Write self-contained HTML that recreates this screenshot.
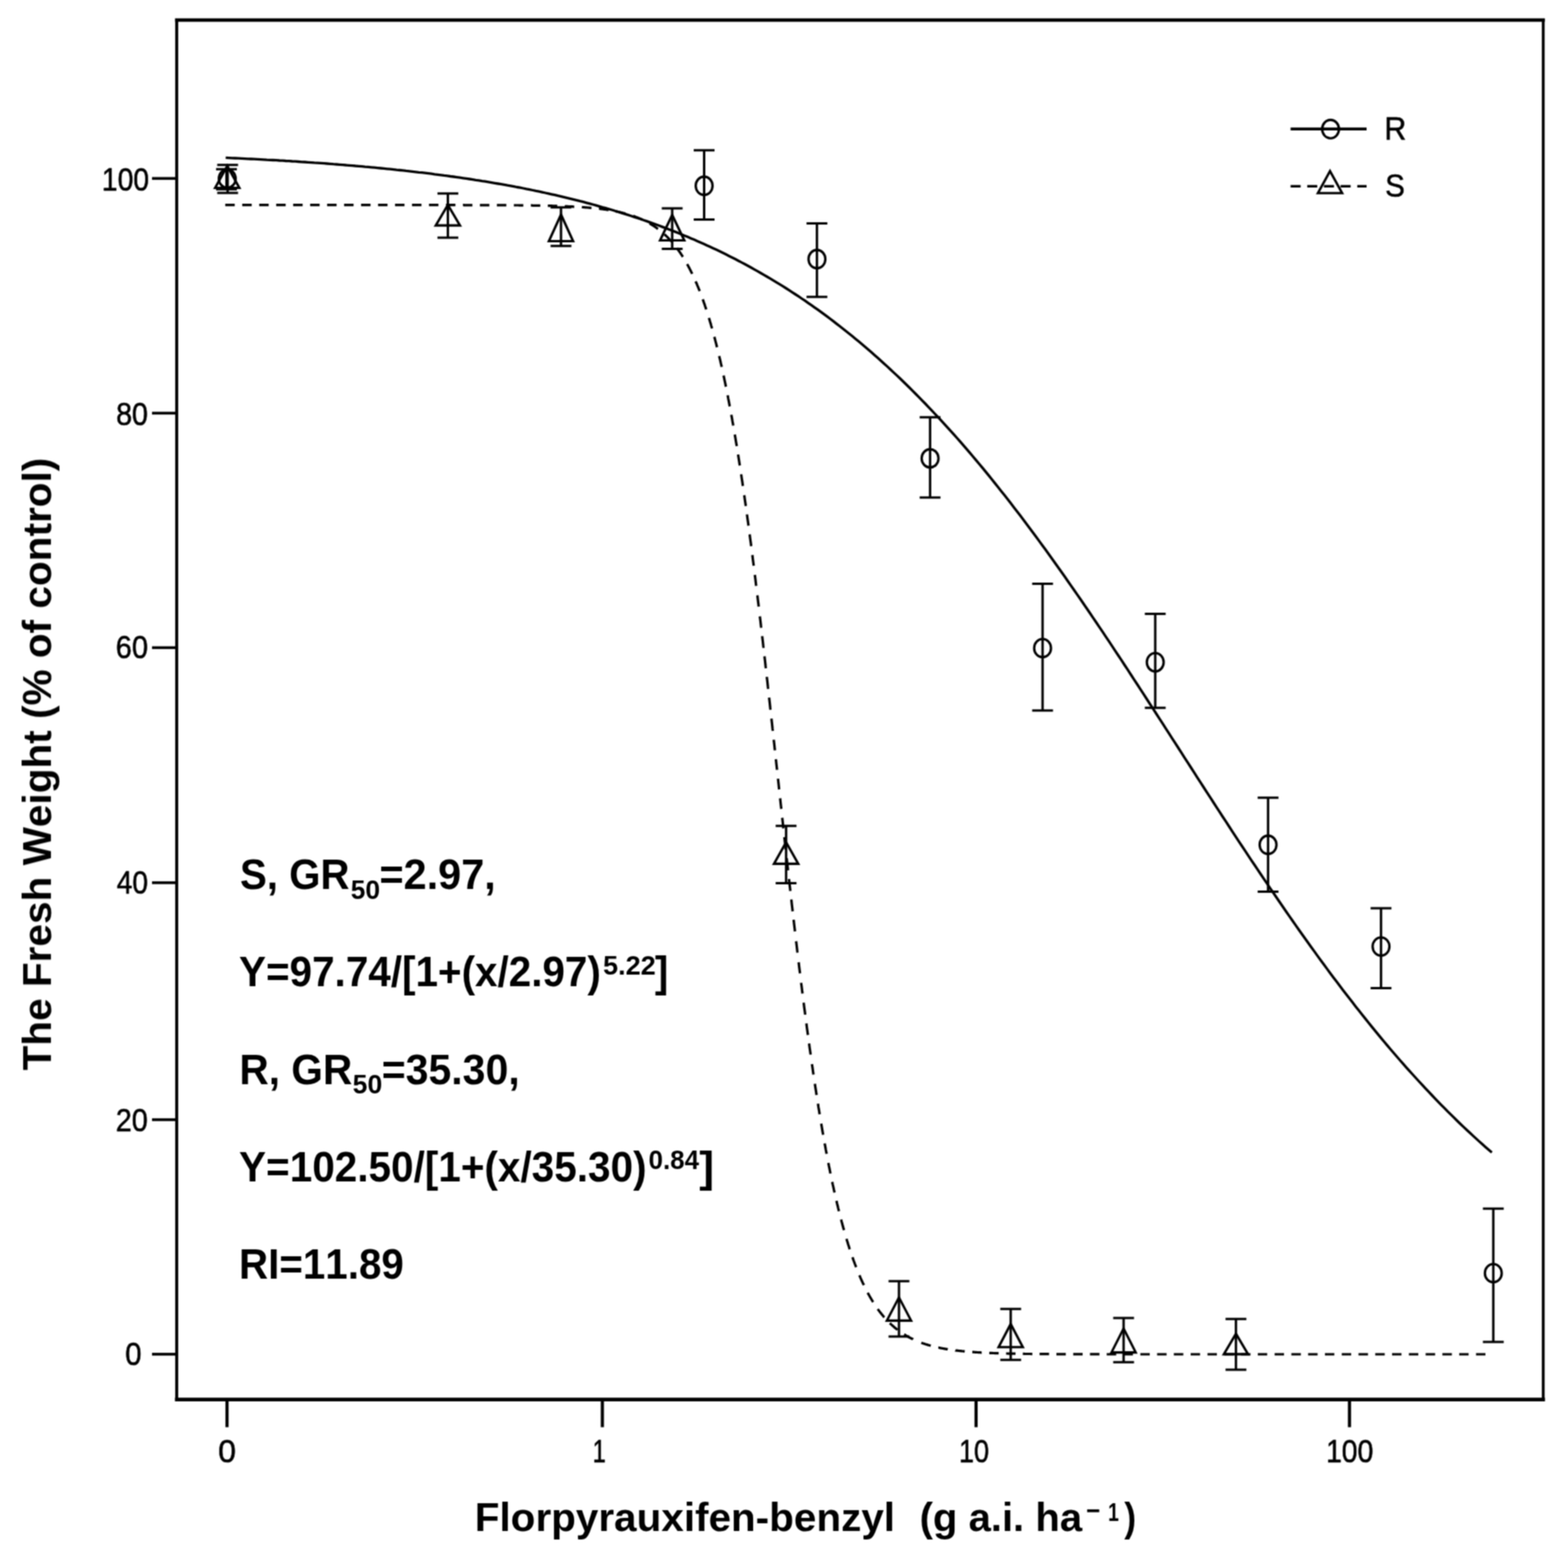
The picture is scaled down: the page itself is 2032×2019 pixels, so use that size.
<!DOCTYPE html>
<html lang="en"><head><meta charset="utf-8"><title>Dose response of fresh weight to florpyrauxifen-benzyl</title>
<style>
html,body{margin:0;padding:0;background:#fff;}
body{width:2032px;height:2019px;overflow:hidden;}
svg{display:block;}
text{font-family:"Liberation Sans",sans-serif;fill:#000;font-kerning:none;white-space:pre;}
</style></head><body>
<svg width="2032" height="2019" viewBox="0 0 2032 2019">
<defs><filter id="soft" x="0" y="0" width="2032" height="2019" filterUnits="userSpaceOnUse" color-interpolation-filters="sRGB"><feConvolveMatrix order="3" kernelMatrix="1 2 1 2 4 2 1 2 1" divisor="16" edgeMode="none" preserveAlpha="false"/></filter></defs>
<rect x="0" y="0" width="2032" height="2019" fill="#fff"/>
<g id="plot" filter="url(#soft)">
<g stroke="#000" fill="none" stroke-linecap="square">
<line x1="229.0" y1="26.0" x2="229.0" y2="1813.6" stroke-width="3.9"/>
<line x1="229.0" y1="26.0" x2="1999.9" y2="26.0" stroke-width="4.4"/>
<line x1="1999.9" y1="26.0" x2="1999.9" y2="1813.6" stroke-width="3.6"/>
<line x1="229.0" y1="1813.6" x2="1999.9" y2="1813.6" stroke-width="4.6"/>
</g>
<g stroke="#000" fill="none" stroke-linecap="butt">
<line x1="197" y1="231.25" x2="229.0" y2="231.25" stroke-width="3.6"/>
<line x1="197" y1="535.4" x2="229.0" y2="535.4" stroke-width="3.6"/>
<line x1="197" y1="839.3" x2="229.0" y2="839.3" stroke-width="3.6"/>
<line x1="197" y1="1143.9" x2="229.0" y2="1143.9" stroke-width="3.6"/>
<line x1="197" y1="1451.0" x2="229.0" y2="1451.0" stroke-width="3.6"/>
<line x1="197" y1="1754.9" x2="229.0" y2="1754.9" stroke-width="3.6"/>
<line x1="294.2" y1="1813.6" x2="294.2" y2="1849.5" stroke-width="4.1"/>
<line x1="780.6" y1="1813.6" x2="780.6" y2="1849.5" stroke-width="4.1"/>
<line x1="1264.9" y1="1813.6" x2="1264.9" y2="1849.5" stroke-width="4.1"/>
<line x1="1748.8" y1="1813.6" x2="1748.8" y2="1849.5" stroke-width="4.1"/>
</g>
<path d="M291.9 265.7 L292.7 265.7 L293.4 265.7 L294.2 265.7 L294.9 265.7 L295.7 265.7 L296.4 265.7 L297.2 265.7 L297.9 265.7 L298.7 265.7 L299.4 265.7 L300.2 265.7 L300.9 265.7 L301.7 265.7 L302.4 265.7 L303.2 265.7 L303.9 265.7 L304.2 265.7 M313.9 265.7 L314.7 265.7 L315.4 265.7 L316.2 265.7 L316.9 265.7 L317.7 265.7 L318.4 265.7 L319.2 265.7 L319.9 265.7 L320.7 265.7 L321.4 265.7 L322.2 265.7 L322.9 265.7 L323.7 265.7 L324.4 265.7 L325.2 265.7 L325.9 265.7 L326.2 265.7 M335.9 265.7 L336.7 265.7 L337.4 265.7 L338.2 265.7 L338.9 265.7 L339.7 265.7 L340.4 265.7 L341.2 265.7 L341.9 265.7 L342.7 265.7 L343.4 265.7 L344.2 265.7 L344.9 265.7 L345.7 265.7 L346.4 265.7 L347.2 265.7 L347.9 265.7 L348.2 265.7 M357.9 265.7 L358.7 265.7 L359.4 265.7 L360.2 265.7 L360.9 265.7 L361.7 265.7 L362.4 265.7 L363.2 265.7 L363.9 265.7 L364.7 265.7 L365.4 265.7 L366.2 265.7 L366.9 265.7 L367.7 265.7 L368.4 265.7 L369.2 265.7 L369.9 265.7 L370.2 265.7 M379.9 265.7 L380.7 265.7 L381.4 265.7 L382.2 265.7 L382.9 265.7 L383.7 265.7 L384.4 265.7 L385.2 265.7 L385.9 265.7 L386.7 265.7 L387.4 265.7 L388.2 265.7 L388.9 265.7 L389.7 265.7 L390.4 265.7 L391.2 265.7 L391.9 265.7 L392.2 265.7 M401.9 265.7 L402.7 265.7 L403.4 265.7 L404.2 265.7 L404.9 265.7 L405.7 265.7 L406.4 265.7 L407.2 265.7 L407.9 265.7 L408.7 265.7 L409.4 265.7 L410.2 265.7 L410.9 265.7 L411.7 265.7 L412.4 265.7 L413.2 265.7 L413.9 265.7 L414.2 265.7 M423.9 265.7 L424.7 265.7 L425.4 265.7 L426.2 265.7 L426.9 265.7 L427.7 265.7 L428.4 265.7 L429.2 265.7 L429.9 265.7 L430.7 265.7 L431.4 265.7 L432.2 265.7 L432.9 265.7 L433.7 265.7 L434.4 265.7 L435.2 265.7 L435.9 265.7 L436.2 265.7 M445.9 265.7 L446.7 265.7 L447.4 265.7 L448.2 265.7 L448.9 265.7 L449.7 265.7 L450.4 265.7 L451.2 265.7 L451.9 265.7 L452.7 265.7 L453.4 265.7 L454.2 265.7 L454.9 265.7 L455.7 265.7 L456.4 265.7 L457.2 265.7 L457.9 265.7 L458.2 265.7 M467.9 265.7 L468.7 265.7 L469.4 265.7 L470.2 265.7 L470.9 265.7 L471.7 265.7 L472.4 265.7 L473.2 265.7 L473.9 265.7 L474.7 265.7 L475.4 265.7 L476.2 265.7 L476.9 265.7 L477.7 265.7 L478.4 265.7 L479.2 265.7 L479.9 265.7 L480.2 265.7 M489.9 265.7 L490.7 265.7 L491.4 265.7 L492.2 265.7 L492.9 265.7 L493.7 265.7 L494.4 265.7 L495.2 265.7 L495.9 265.7 L496.7 265.7 L497.4 265.7 L498.2 265.7 L498.9 265.7 L499.7 265.7 L500.4 265.7 L501.2 265.7 L501.9 265.7 L502.2 265.7 M511.9 265.7 L512.7 265.7 L513.4 265.7 L514.2 265.7 L514.9 265.7 L515.7 265.7 L516.4 265.7 L517.2 265.7 L517.9 265.7 L518.7 265.7 L519.4 265.7 L520.2 265.7 L520.9 265.7 L521.7 265.7 L522.4 265.7 L523.2 265.7 L523.9 265.7 L524.2 265.7 M533.9 265.7 L534.7 265.7 L535.4 265.7 L536.2 265.7 L536.9 265.7 L537.7 265.7 L538.4 265.7 L539.2 265.7 L539.9 265.7 L540.7 265.7 L541.4 265.7 L542.2 265.7 L542.9 265.7 L543.7 265.7 L544.4 265.7 L545.2 265.7 L545.9 265.7 L546.2 265.7 M555.9 265.7 L556.7 265.7 L557.4 265.7 L558.2 265.7 L558.9 265.7 L559.7 265.7 L560.4 265.7 L561.2 265.7 L561.9 265.7 L562.7 265.7 L563.4 265.7 L564.2 265.7 L564.9 265.7 L565.7 265.7 L566.4 265.7 L567.2 265.7 L567.9 265.7 L568.2 265.7 M577.9 265.7 L578.7 265.7 L579.4 265.7 L580.2 265.7 L580.9 265.7 L581.7 265.7 L582.4 265.7 L583.2 265.7 L583.9 265.7 L584.7 265.7 L585.4 265.7 L586.2 265.7 L586.9 265.7 L587.7 265.7 L588.4 265.7 L589.2 265.7 L589.9 265.7 L590.2 265.7 M599.9 265.7 L600.7 265.7 L601.4 265.8 L602.2 265.8 L602.9 265.8 L603.7 265.8 L604.4 265.8 L605.2 265.8 L605.9 265.8 L606.7 265.8 L607.4 265.8 L608.2 265.8 L608.9 265.8 L609.7 265.8 L610.4 265.8 L611.2 265.8 L611.9 265.8 L612.2 265.8 M621.9 265.8 L622.7 265.8 L623.4 265.8 L624.2 265.8 L624.9 265.8 L625.7 265.8 L626.4 265.8 L627.2 265.8 L627.9 265.8 L628.7 265.8 L629.4 265.8 L630.2 265.8 L630.9 265.8 L631.7 265.8 L632.4 265.8 L633.2 265.8 L633.9 265.8 L634.2 265.8 M643.9 265.9 L644.7 265.9 L645.4 265.9 L646.2 265.9 L646.9 265.9 L647.7 265.9 L648.4 265.9 L649.2 265.9 L649.9 265.9 L650.7 265.9 L651.4 265.9 L652.2 265.9 L652.9 265.9 L653.7 265.9 L654.4 265.9 L655.2 265.9 L655.9 265.9 L656.2 265.9 M665.9 266.0 L666.7 266.0 L667.4 266.0 L668.2 266.0 L668.9 266.0 L669.7 266.0 L670.4 266.0 L671.2 266.0 L671.9 266.0 L672.7 266.1 L673.4 266.1 L674.2 266.1 L674.9 266.1 L675.7 266.1 L676.4 266.1 L677.2 266.1 L677.9 266.1 L678.2 266.1 M687.9 266.2 L688.7 266.2 L689.4 266.2 L690.2 266.3 L690.9 266.3 L691.7 266.3 L692.4 266.3 L693.2 266.3 L693.9 266.3 L694.7 266.3 L695.4 266.3 L696.2 266.3 L696.9 266.4 L697.7 266.4 L698.4 266.4 L699.2 266.4 L699.9 266.4 L700.2 266.4 M709.9 266.6 L710.7 266.6 L711.4 266.6 L712.2 266.7 L712.9 266.7 L713.7 266.7 L714.4 266.7 L715.2 266.7 L715.9 266.8 L716.7 266.8 L717.4 266.8 L718.2 266.8 L718.9 266.8 L719.7 266.9 L720.4 266.9 L721.2 266.9 L721.9 266.9 L722.2 266.9 M731.9 267.3 L732.7 267.3 L733.4 267.3 L734.2 267.4 L734.9 267.4 L735.7 267.4 L736.4 267.5 L737.2 267.5 L737.9 267.5 L738.7 267.6 L739.4 267.6 L740.2 267.6 L741.0 267.7 L741.7 267.7 L742.5 267.8 L743.2 267.8 L744.0 267.8 L744.2 267.8 M754.0 268.4 L754.7 268.5 L755.5 268.5 L756.2 268.6 L757.0 268.7 L757.7 268.7 L758.5 268.8 L759.2 268.8 L760.0 268.9 L760.7 268.9 L761.5 269.0 L762.2 269.1 L763.0 269.1 L763.7 269.2 L764.5 269.3 L765.2 269.3 L766.0 269.4 L766.5 269.4 M776.2 270.5 L777.0 270.5 L777.7 270.6 L778.5 270.7 L779.2 270.8 L780.0 270.9 L780.7 271.0 L781.5 271.1 L782.2 271.2 L783.0 271.3 L783.7 271.4 L784.5 271.5 L785.2 271.6 L786.0 271.7 L786.7 271.9 L787.5 272.0 L788.2 272.1 L788.7 272.2 M798.5 273.9 L799.2 274.1 L800.0 274.2 L800.7 274.4 L801.5 274.6 L802.2 274.7 L803.0 274.9 L803.7 275.1 L804.5 275.2 L805.2 275.4 L806.0 275.6 L806.7 275.8 L807.5 276.0 L808.2 276.2 L809.0 276.4 L809.7 276.6 L810.5 276.8 L810.7 276.8 M820.5 279.8 L821.2 280.1 L822.0 280.4 L822.7 280.6 L823.5 280.9 L824.2 281.2 L825.0 281.5 L825.7 281.8 L826.5 282.1 L827.2 282.4 L828.0 282.7 L828.7 283.0 L829.5 283.3 L830.2 283.6 L831.0 284.0 L831.7 284.3 L832.5 284.7 L832.5 284.7 M841.7 289.5 L842.5 289.9 L843.2 290.3 L844.0 290.8 L844.7 291.3 L845.5 291.7 L846.2 292.2 L847.0 292.7 L847.7 293.2 L848.5 293.7 L849.2 294.2 L850.0 294.7 L850.7 295.3 L851.5 295.8 L852.2 296.4 L852.7 296.7 M861.0 303.6 L861.7 304.3 L862.5 305.0 L863.2 305.7 L864.0 306.4 L864.7 307.2 L865.5 307.9 L866.2 308.7 L867.0 309.5 L867.7 310.3 L868.5 311.1 L869.2 311.9 L870.0 312.7 L870.5 313.3 M877.2 321.6 L878.0 322.6 L878.7 323.7 L879.5 324.7 L880.2 325.8 L881.0 326.8 L881.7 327.9 L882.5 329.1 L883.2 330.2 L884.0 331.4 L884.7 332.5 L885.0 332.9 M890.5 342.2 L891.2 343.6 L892.0 345.0 L892.7 346.4 L893.5 347.8 L894.2 349.2 L895.0 350.7 L895.7 352.2 L896.5 353.7 L897.0 354.8 M901.5 364.6 L902.2 366.3 L903.0 368.0 L903.7 369.8 L904.5 371.6 L905.2 373.5 L906.0 375.3 L906.7 377.2 L906.7 377.2 M910.7 387.9 L911.5 390.0 L912.2 392.1 L913.0 394.3 L913.7 396.5 L914.5 398.7 L915.2 401.0 L915.2 401.0 M918.7 412.0 L919.5 414.5 L920.2 417.0 L921.0 419.5 L921.7 422.1 L922.5 424.7 L922.7 425.6 M925.7 436.5 L926.5 439.3 L927.2 442.2 L928.0 445.1 L928.7 448.0 L929.2 450.0 M932.0 461.3 L932.7 464.5 L933.5 467.7 L934.2 470.9 L935.0 474.2 L935.2 475.4 M937.7 486.7 L938.5 490.3 L939.2 493.8 L940.0 497.4 L940.7 501.1 L940.7 501.1 M943.0 512.3 L943.7 516.2 L944.5 520.1 L945.2 524.0 L945.7 526.6 M947.7 537.5 L948.5 541.6 L949.2 545.8 L950.0 550.0 L950.2 551.5 M952.2 563.1 L953.0 567.5 L953.7 572.0 L954.5 576.5 L954.7 578.1 M956.5 588.9 L957.2 593.6 L958.0 598.4 L958.7 603.2 L958.7 603.2 M960.5 614.6 L961.2 619.6 L962.0 624.6 L962.7 629.7 L962.7 629.7 M964.5 641.7 L965.2 647.0 L966.0 652.3 L966.5 655.8 M968.0 666.6 L968.7 672.0 L969.5 677.5 L970.0 681.2 M971.5 692.5 L972.2 698.1 L973.0 703.8 L973.5 707.7 M975.0 719.3 L975.7 725.2 L976.5 731.1 L976.7 733.1 M978.2 745.0 L979.0 751.1 L979.7 757.2 L980.0 759.2 M981.5 771.5 L982.2 777.7 L983.0 784.0 L983.2 786.1 M984.7 798.7 L985.5 805.1 L986.2 811.5 L986.5 813.6 M987.7 824.4 L988.5 830.9 L989.2 837.4 L989.5 839.6 M990.7 850.5 L991.5 857.1 L992.2 863.7 L992.5 866.0 M993.7 877.1 L994.5 883.8 L995.2 890.5 L995.5 892.7 M996.7 904.0 L997.5 910.7 L998.2 917.5 L998.5 919.8 M999.7 931.2 L1000.5 938.0 L1001.2 944.9 L1001.5 947.1 M1002.7 958.6 L1003.5 965.5 L1004.2 972.3 L1004.2 972.3 M1005.5 983.8 L1006.2 990.7 L1007.0 997.6 L1007.0 997.6 M1008.2 1009.1 L1009.0 1016.1 L1009.7 1023.0 L1009.7 1023.0 M1011.0 1034.5 L1011.7 1041.4 L1012.5 1048.3 L1012.5 1048.3 M1013.7 1059.7 L1014.5 1066.6 L1015.2 1073.5 L1015.2 1073.5 M1016.5 1084.9 L1017.2 1091.7 L1018.0 1098.5 L1018.2 1100.8 M1019.5 1112.1 L1020.2 1118.9 L1021.0 1125.6 L1021.2 1127.9 M1022.5 1139.1 L1023.2 1145.8 L1024.0 1152.4 L1024.2 1154.6 M1025.5 1165.7 L1026.2 1172.3 L1027.0 1178.9 L1027.2 1181.0 M1028.5 1191.9 L1029.2 1198.4 L1030.0 1204.8 L1030.2 1207.0 M1031.7 1219.8 L1032.5 1226.1 L1033.2 1232.4 L1033.5 1234.5 M1035.0 1247.0 L1035.7 1253.2 L1036.5 1259.4 L1036.7 1261.4 M1038.2 1273.6 L1039.0 1279.6 L1039.7 1285.6 L1040.0 1287.6 M1041.5 1299.4 L1042.2 1305.2 L1043.0 1311.0 L1043.5 1314.9 M1045.0 1326.3 L1045.7 1331.9 L1046.5 1337.5 L1047.0 1341.2 M1048.5 1352.2 L1049.2 1357.6 L1050.0 1363.0 L1050.5 1366.6 M1052.2 1378.9 L1053.0 1384.1 L1053.7 1389.2 L1054.2 1392.6 M1056.0 1404.4 L1056.7 1409.3 L1057.5 1414.2 L1058.2 1419.1 L1058.2 1419.1 M1060.0 1430.2 L1060.7 1434.9 L1061.5 1439.5 L1062.2 1444.1 L1062.2 1444.1 M1064.2 1456.1 L1065.0 1460.5 L1065.7 1464.9 L1066.5 1469.2 L1066.7 1470.6 M1068.7 1481.8 L1069.5 1485.9 L1070.2 1490.0 L1071.0 1494.0 L1071.2 1495.3 M1073.5 1507.0 L1074.2 1510.9 L1075.0 1514.6 L1075.7 1518.3 L1076.2 1520.8 M1078.5 1531.6 L1079.2 1535.1 L1080.0 1538.5 L1080.7 1541.9 L1081.5 1545.3 L1081.5 1545.3 M1084.0 1556.2 L1084.7 1559.4 L1085.5 1562.5 L1086.2 1565.6 L1087.0 1568.6 L1087.2 1569.6 M1090.0 1580.4 L1090.7 1583.2 L1091.5 1586.0 L1092.2 1588.8 L1093.0 1591.5 L1093.7 1594.2 L1093.7 1594.2 M1097.0 1605.4 L1097.7 1607.8 L1098.5 1610.3 L1099.2 1612.7 L1100.0 1615.1 L1100.7 1617.4 L1101.2 1618.9 M1104.7 1629.3 L1105.5 1631.4 L1106.2 1633.5 L1107.0 1635.5 L1107.7 1637.5 L1108.5 1639.5 L1109.2 1641.5 L1109.5 1642.1 M1113.7 1652.6 L1114.5 1654.4 L1115.2 1656.1 L1116.0 1657.8 L1116.7 1659.5 L1117.5 1661.1 L1118.2 1662.7 L1119.0 1664.3 L1119.5 1665.4 M1124.5 1675.3 L1125.2 1676.6 L1126.0 1678.0 L1126.7 1679.3 L1127.5 1680.7 L1128.2 1682.0 L1129.0 1683.2 L1129.7 1684.5 L1130.5 1685.7 L1131.2 1687.0 L1131.5 1687.4 M1137.5 1696.3 L1138.2 1697.4 L1139.0 1698.4 L1139.7 1699.4 L1140.5 1700.4 L1141.2 1701.3 L1142.0 1702.3 L1142.7 1703.2 L1143.5 1704.1 L1144.2 1705.0 L1145.0 1705.9 L1145.7 1706.8 L1146.0 1707.1 M1153.2 1714.7 L1154.0 1715.5 L1154.7 1716.2 L1155.5 1716.9 L1156.2 1717.5 L1157.0 1718.2 L1157.7 1718.9 L1158.5 1719.5 L1159.2 1720.2 L1160.0 1720.8 L1160.7 1721.4 L1161.5 1722.0 L1162.2 1722.6 L1163.0 1723.2 L1163.2 1723.4 M1171.7 1729.3 L1172.5 1729.7 L1173.2 1730.2 L1174.0 1730.6 L1174.7 1731.1 L1175.5 1731.5 L1176.2 1731.9 L1177.0 1732.4 L1177.7 1732.8 L1178.5 1733.2 L1179.2 1733.6 L1180.0 1733.9 L1180.7 1734.3 L1181.5 1734.7 L1182.2 1735.1 L1183.0 1735.4 L1183.2 1735.6 M1925.0 1755.0 L1924.2 1755.0 L1923.5 1755.0 L1922.8 1755.0 L1922.0 1755.0 L1921.2 1755.0 L1920.5 1755.0 L1919.8 1755.0 L1919.0 1755.0 L1918.2 1755.0 L1917.5 1755.0 L1916.8 1755.0 L1916.0 1755.0 L1915.2 1755.0 L1914.5 1755.0 L1913.8 1755.0 L1913.0 1755.0 L1912.8 1755.0 M1903.2 1755.0 L1902.5 1755.0 L1901.8 1755.0 L1901.0 1755.0 L1900.2 1755.0 L1899.5 1755.0 L1898.8 1755.0 L1898.0 1755.0 L1897.2 1755.0 L1896.5 1755.0 L1895.8 1755.0 L1895.0 1755.0 L1894.2 1755.0 L1893.5 1755.0 L1892.8 1755.0 L1892.0 1755.0 L1891.2 1755.0 L1891.0 1755.0 M1881.5 1755.0 L1880.8 1755.0 L1880.0 1755.0 L1879.2 1755.0 L1878.5 1755.0 L1877.8 1755.0 L1877.0 1755.0 L1876.2 1755.0 L1875.5 1755.0 L1874.8 1755.0 L1874.0 1755.0 L1873.2 1755.0 L1872.5 1755.0 L1871.8 1755.0 L1871.0 1755.0 L1870.2 1755.0 L1869.5 1755.0 L1869.2 1755.0 M1859.8 1755.0 L1859.0 1755.0 L1858.2 1755.0 L1857.5 1755.0 L1856.8 1755.0 L1856.0 1755.0 L1855.2 1755.0 L1854.5 1755.0 L1853.8 1755.0 L1853.0 1755.0 L1852.2 1755.0 L1851.5 1755.0 L1850.8 1755.0 L1850.0 1755.0 L1849.2 1755.0 L1848.5 1755.0 L1847.8 1755.0 L1847.5 1755.0 M1838.0 1755.0 L1837.2 1755.0 L1836.5 1755.0 L1835.8 1755.0 L1835.0 1755.0 L1834.2 1755.0 L1833.5 1755.0 L1832.8 1755.0 L1832.0 1755.0 L1831.2 1755.0 L1830.5 1755.0 L1829.8 1755.0 L1829.0 1755.0 L1828.2 1755.0 L1827.5 1755.0 L1826.8 1755.0 L1826.0 1755.0 L1825.8 1755.0 M1816.2 1755.0 L1815.5 1755.0 L1814.8 1755.0 L1814.0 1755.0 L1813.2 1755.0 L1812.5 1755.0 L1811.8 1755.0 L1811.0 1755.0 L1810.2 1755.0 L1809.5 1755.0 L1808.8 1755.0 L1808.0 1755.0 L1807.2 1755.0 L1806.5 1755.0 L1805.8 1755.0 L1805.0 1755.0 L1804.2 1755.0 L1804.0 1755.0 M1794.5 1755.0 L1793.8 1755.0 L1793.0 1755.0 L1792.2 1755.0 L1791.5 1755.0 L1790.8 1755.0 L1790.0 1755.0 L1789.2 1755.0 L1788.5 1755.0 L1787.8 1755.0 L1787.0 1755.0 L1786.2 1755.0 L1785.5 1755.0 L1784.8 1755.0 L1784.0 1755.0 L1783.2 1755.0 L1782.5 1755.0 L1782.2 1755.0 M1772.8 1755.0 L1772.0 1755.0 L1771.2 1755.0 L1770.5 1755.0 L1769.8 1755.0 L1769.0 1755.0 L1768.2 1755.0 L1767.5 1755.0 L1766.8 1755.0 L1766.0 1755.0 L1765.2 1755.0 L1764.5 1755.0 L1763.8 1755.0 L1763.0 1755.0 L1762.2 1755.0 L1761.5 1755.0 L1760.8 1755.0 L1760.5 1755.0 M1751.0 1755.0 L1750.2 1755.0 L1749.5 1755.0 L1748.8 1755.0 L1748.0 1755.0 L1747.2 1755.0 L1746.5 1755.0 L1745.8 1755.0 L1745.0 1755.0 L1744.2 1755.0 L1743.5 1755.0 L1742.8 1755.0 L1742.0 1755.0 L1741.2 1755.0 L1740.5 1755.0 L1739.8 1755.0 L1739.0 1755.0 L1738.8 1755.0 M1729.2 1755.0 L1728.5 1755.0 L1727.8 1755.0 L1727.0 1755.0 L1726.2 1755.0 L1725.5 1755.0 L1724.8 1755.0 L1724.0 1755.0 L1723.2 1755.0 L1722.5 1755.0 L1721.8 1755.0 L1721.0 1755.0 L1720.2 1755.0 L1719.5 1755.0 L1718.8 1755.0 L1718.0 1755.0 L1717.2 1755.0 L1717.0 1755.0 M1707.5 1755.0 L1706.8 1755.0 L1706.0 1755.0 L1705.2 1755.0 L1704.5 1755.0 L1703.8 1755.0 L1703.0 1755.0 L1702.2 1755.0 L1701.5 1755.0 L1700.8 1755.0 L1700.0 1755.0 L1699.2 1755.0 L1698.5 1755.0 L1697.8 1755.0 L1697.0 1755.0 L1696.2 1755.0 L1695.5 1755.0 L1695.2 1755.0 M1685.8 1755.0 L1685.0 1755.0 L1684.2 1755.0 L1683.5 1755.0 L1682.8 1755.0 L1682.0 1755.0 L1681.2 1755.0 L1680.5 1755.0 L1679.8 1755.0 L1679.0 1755.0 L1678.2 1755.0 L1677.5 1755.0 L1676.8 1755.0 L1676.0 1755.0 L1675.2 1755.0 L1674.5 1755.0 L1673.8 1755.0 L1673.5 1755.0 M1664.0 1755.0 L1663.2 1755.0 L1662.5 1755.0 L1661.8 1755.0 L1661.0 1755.0 L1660.2 1755.0 L1659.5 1755.0 L1658.8 1755.0 L1658.0 1755.0 L1657.2 1755.0 L1656.5 1755.0 L1655.8 1755.0 L1655.0 1755.0 L1654.2 1755.0 L1653.5 1755.0 L1652.8 1755.0 L1652.0 1755.0 L1651.8 1755.0 M1642.2 1755.0 L1641.5 1755.0 L1640.8 1755.0 L1640.0 1755.0 L1639.2 1755.0 L1638.5 1755.0 L1637.8 1755.0 L1637.0 1755.0 L1636.2 1755.0 L1635.5 1755.0 L1634.8 1755.0 L1634.0 1755.0 L1633.2 1755.0 L1632.5 1755.0 L1631.8 1755.0 L1631.0 1755.0 L1630.2 1755.0 L1630.0 1755.0 M1620.5 1755.0 L1619.8 1755.0 L1619.0 1755.0 L1618.2 1755.0 L1617.5 1755.0 L1616.8 1755.0 L1616.0 1755.0 L1615.2 1755.0 L1614.5 1755.0 L1613.8 1755.0 L1613.0 1755.0 L1612.2 1755.0 L1611.5 1755.0 L1610.8 1755.0 L1610.0 1755.0 L1609.2 1755.0 L1608.5 1755.0 L1608.2 1755.0 M1598.8 1755.0 L1598.0 1755.0 L1597.2 1755.0 L1596.5 1755.0 L1595.8 1755.0 L1595.0 1755.0 L1594.2 1755.0 L1593.5 1755.0 L1592.8 1755.0 L1592.0 1755.0 L1591.2 1755.0 L1590.5 1755.0 L1589.8 1755.0 L1589.0 1755.0 L1588.2 1755.0 L1587.5 1755.0 L1586.8 1755.0 L1586.5 1755.0 M1577.0 1755.0 L1576.2 1755.0 L1575.5 1755.0 L1574.8 1755.0 L1574.0 1755.0 L1573.2 1755.0 L1572.5 1755.0 L1571.8 1755.0 L1571.0 1755.0 L1570.2 1755.0 L1569.5 1755.0 L1568.8 1755.0 L1568.0 1755.0 L1567.2 1755.0 L1566.5 1755.0 L1565.8 1755.0 L1565.0 1755.0 L1564.8 1755.0 M1555.2 1755.0 L1554.5 1755.0 L1553.8 1755.0 L1553.0 1755.0 L1552.2 1755.0 L1551.5 1755.0 L1550.8 1755.0 L1550.0 1755.0 L1549.2 1755.0 L1548.5 1755.0 L1547.8 1755.0 L1547.0 1755.0 L1546.2 1755.0 L1545.5 1755.0 L1544.8 1755.0 L1544.0 1755.0 L1543.2 1755.0 L1543.0 1755.0 M1533.5 1755.0 L1532.8 1755.0 L1532.0 1755.0 L1531.2 1755.0 L1530.5 1755.0 L1529.8 1755.0 L1529.0 1755.0 L1528.2 1755.0 L1527.5 1755.0 L1526.8 1755.0 L1526.0 1755.0 L1525.2 1755.0 L1524.5 1755.0 L1523.8 1755.0 L1523.0 1755.0 L1522.2 1755.0 L1521.5 1755.0 L1521.2 1755.0 M1511.8 1755.0 L1511.0 1755.0 L1510.2 1755.0 L1509.5 1755.0 L1508.8 1755.0 L1508.0 1755.0 L1507.2 1755.0 L1506.5 1755.0 L1505.8 1755.0 L1505.0 1755.0 L1504.2 1755.0 L1503.5 1755.0 L1502.8 1755.0 L1502.0 1755.0 L1501.2 1755.0 L1500.5 1755.0 L1499.8 1755.0 L1499.5 1755.0 M1490.0 1755.0 L1489.2 1755.0 L1488.5 1755.0 L1487.8 1755.0 L1487.0 1755.0 L1486.2 1755.0 L1485.5 1755.0 L1484.8 1755.0 L1484.0 1755.0 L1483.2 1755.0 L1482.5 1755.0 L1481.8 1755.0 L1481.0 1755.0 L1480.2 1755.0 L1479.5 1755.0 L1478.8 1755.0 L1478.0 1755.0 L1477.8 1755.0 M1468.2 1755.0 L1467.5 1755.0 L1466.8 1755.0 L1466.0 1755.0 L1465.2 1755.0 L1464.5 1755.0 L1463.8 1755.0 L1463.0 1755.0 L1462.2 1755.0 L1461.5 1755.0 L1460.8 1755.0 L1460.0 1755.0 L1459.2 1755.0 L1458.5 1755.0 L1457.8 1755.0 L1457.0 1755.0 L1456.2 1755.0 L1456.0 1755.0 M1446.5 1755.0 L1445.8 1755.0 L1445.0 1755.0 L1444.2 1755.0 L1443.5 1755.0 L1442.8 1755.0 L1442.0 1755.0 L1441.2 1755.0 L1440.5 1755.0 L1439.8 1755.0 L1439.0 1755.0 L1438.2 1755.0 L1437.5 1755.0 L1436.8 1755.0 L1436.0 1755.0 L1435.2 1755.0 L1434.5 1755.0 L1434.2 1755.0 M1424.8 1754.9 L1424.0 1754.9 L1423.2 1754.9 L1422.5 1754.9 L1421.8 1754.9 L1421.0 1754.9 L1420.2 1754.9 L1419.5 1754.9 L1418.8 1754.9 L1418.0 1754.9 L1417.2 1754.9 L1416.5 1754.9 L1415.8 1754.9 L1415.0 1754.9 L1414.2 1754.9 L1413.5 1754.9 L1412.8 1754.9 L1412.5 1754.9 M1403.0 1754.9 L1402.2 1754.9 L1401.5 1754.9 L1400.8 1754.9 L1400.0 1754.9 L1399.2 1754.9 L1398.5 1754.9 L1397.8 1754.9 L1397.0 1754.9 L1396.2 1754.9 L1395.5 1754.9 L1394.8 1754.9 L1394.0 1754.9 L1393.2 1754.9 L1392.5 1754.9 L1391.8 1754.9 L1391.0 1754.9 L1390.8 1754.9 M1381.2 1754.9 L1380.5 1754.9 L1379.8 1754.8 L1379.0 1754.8 L1378.2 1754.8 L1377.5 1754.8 L1376.8 1754.8 L1376.0 1754.8 L1375.2 1754.8 L1374.5 1754.8 L1373.8 1754.8 L1373.0 1754.8 L1372.2 1754.8 L1371.5 1754.8 L1370.8 1754.8 L1370.0 1754.8 L1369.2 1754.8 L1369.0 1754.8 M1359.5 1754.7 L1358.8 1754.7 L1358.0 1754.7 L1357.2 1754.7 L1356.5 1754.7 L1355.8 1754.7 L1355.0 1754.7 L1354.2 1754.7 L1353.5 1754.7 L1352.8 1754.7 L1352.0 1754.7 L1351.2 1754.7 L1350.5 1754.7 L1349.8 1754.7 L1349.0 1754.7 L1348.2 1754.7 L1347.5 1754.7 L1347.2 1754.7 M1337.8 1754.6 L1337.0 1754.6 L1336.2 1754.6 L1335.5 1754.5 L1334.8 1754.5 L1334.0 1754.5 L1333.2 1754.5 L1332.5 1754.5 L1331.8 1754.5 L1331.0 1754.5 L1330.2 1754.5 L1329.5 1754.5 L1328.8 1754.5 L1328.0 1754.5 L1327.2 1754.4 L1326.5 1754.4 L1325.8 1754.4 L1325.5 1754.4 M1316.0 1754.3 L1315.2 1754.2 L1314.5 1754.2 L1313.8 1754.2 L1313.0 1754.2 L1312.2 1754.2 L1311.5 1754.2 L1310.8 1754.2 L1310.0 1754.1 L1309.2 1754.1 L1308.5 1754.1 L1307.8 1754.1 L1307.0 1754.1 L1306.2 1754.1 L1305.5 1754.0 L1304.8 1754.0 L1304.0 1754.0 L1303.8 1754.0 M1294.2 1753.7 L1293.5 1753.7 L1292.8 1753.7 L1292.0 1753.7 L1291.2 1753.6 L1290.5 1753.6 L1289.8 1753.6 L1289.0 1753.6 L1288.2 1753.5 L1287.5 1753.5 L1286.8 1753.5 L1286.0 1753.4 L1285.2 1753.4 L1284.5 1753.4 L1283.8 1753.4 L1283.0 1753.3 L1282.2 1753.3 L1282.0 1753.3 M1272.2 1752.8 L1271.5 1752.8 L1270.8 1752.7 L1270.0 1752.7 L1269.2 1752.7 L1268.5 1752.6 L1267.8 1752.6 L1267.0 1752.5 L1266.2 1752.5 L1265.5 1752.4 L1264.8 1752.4 L1264.0 1752.3 L1263.2 1752.3 L1262.5 1752.2 L1261.8 1752.2 L1261.0 1752.1 L1260.2 1752.1 L1260.0 1752.1 M1250.2 1751.3 L1249.5 1751.2 L1248.8 1751.1 L1248.0 1751.0 L1247.2 1751.0 L1246.5 1750.9 L1245.8 1750.8 L1245.0 1750.7 L1244.2 1750.7 L1243.5 1750.6 L1242.8 1750.5 L1242.0 1750.4 L1241.2 1750.3 L1240.5 1750.2 L1239.8 1750.1 L1239.0 1750.1 L1238.2 1750.0 L1238.0 1749.9 M1228.2 1748.6 L1227.5 1748.4 L1226.8 1748.3 L1226.0 1748.2 L1225.2 1748.1 L1224.5 1747.9 L1223.8 1747.8 L1223.0 1747.7 L1222.2 1747.5 L1221.5 1747.4 L1220.8 1747.2 L1220.0 1747.1 L1219.2 1747.0 L1218.5 1746.8 L1217.8 1746.7 L1217.0 1746.5 L1216.2 1746.3 L1216.0 1746.3 M1206.2 1743.9 L1205.5 1743.7 L1204.8 1743.5 L1204.0 1743.3 L1203.2 1743.1 L1202.5 1742.9 L1201.8 1742.6 L1201.0 1742.4 L1200.2 1742.2 L1199.5 1741.9 L1198.8 1741.7 L1198.0 1741.4 L1197.2 1741.2 L1196.5 1740.9 L1195.8 1740.7 L1195.0 1740.4 L1194.2 1740.1 L1194.0 1740.0" fill="none" stroke="#000" stroke-width="3.2"/>
<path d="M292.5 204.4 L296.6 204.6 L300.7 204.8 L304.8 205.0 L308.9 205.2 L313.0 205.4 L317.1 205.6 L321.2 205.8 L325.3 206.0 L329.4 206.2 L333.5 206.4 L337.6 206.6 L341.7 206.8 L345.8 207.1 L349.9 207.3 L354.0 207.5 L358.1 207.7 L362.2 208.0 L366.3 208.2 L370.4 208.5 L374.5 208.7 L378.6 209.0 L382.7 209.2 L386.8 209.5 L390.9 209.8 L395.1 210.0 L399.2 210.3 L403.3 210.6 L407.4 210.9 L411.5 211.1 L415.6 211.4 L419.7 211.7 L423.8 212.0 L427.9 212.3 L432.0 212.7 L436.1 213.0 L440.2 213.3 L444.3 213.6 L448.4 214.0 L452.5 214.3 L456.6 214.6 L460.7 215.0 L464.8 215.3 L468.9 215.7 L473.0 216.1 L477.1 216.4 L481.2 216.8 L485.3 217.2 L489.4 217.6 L493.5 218.0 L497.6 218.4 L501.7 218.8 L505.8 219.2 L509.9 219.6 L514.0 220.1 L518.1 220.5 L522.2 220.9 L526.3 221.4 L530.4 221.8 L534.5 222.3 L538.6 222.8 L542.7 223.3 L546.8 223.7 L550.9 224.2 L555.0 224.7 L559.1 225.2 L563.2 225.8 L567.3 226.3 L571.4 226.8 L575.5 227.4 L579.6 227.9 L583.7 228.5 L587.8 229.0 L591.9 229.6 L596.0 230.2 L600.2 230.8 L604.3 231.4 L608.4 232.0 L612.5 232.6 L616.6 233.3 L620.7 233.9 L624.8 234.6 L628.9 235.2 L633.0 235.9 L637.1 236.6 L641.2 237.3 L645.3 238.0 L649.4 238.7 L653.5 239.4 L657.6 240.2 L661.7 240.9 L665.8 241.7 L669.9 242.5 L674.0 243.2 L678.1 244.0 L682.2 244.9 L686.3 245.7 L690.4 246.5 L694.5 247.4 L698.6 248.2 L702.7 249.1 L706.8 250.0 L710.9 250.9 L715.0 251.8 L719.1 252.7 L723.2 253.7 L727.3 254.6 L731.4 255.6 L735.5 256.6 L739.6 257.6 L743.7 258.6 L747.8 259.6 L751.9 260.7 L756.0 261.7 L760.1 262.8 L764.2 263.9 L768.3 265.0 L772.4 266.1 L776.5 267.3 L780.6 268.5 L784.7 269.6 L788.8 270.8 L792.9 272.0 L797.0 273.3 L801.1 274.5 L805.3 275.8 L809.4 277.1 L813.5 278.4 L817.6 279.7 L821.7 281.1 L825.8 282.4 L829.9 283.8 L834.0 285.2 L838.1 286.6 L842.2 288.1 L846.3 289.5 L850.4 291.0 L854.5 292.5 L858.6 294.1 L862.7 295.6 L866.8 297.2 L870.9 298.8 L875.0 300.4 L879.1 302.1 L883.2 303.7 L887.3 305.4 L891.4 307.1 L895.5 308.9 L899.6 310.6 L903.7 312.4 L907.8 314.2 L911.9 316.0 L916.0 317.9 L920.1 319.8 L924.2 321.7 L928.3 323.6 L932.4 325.6 L936.5 327.6 L940.6 329.6 L944.7 331.7 L948.8 333.7 L952.9 335.8 L957.0 338.0 L961.1 340.1 L965.2 342.3 L969.3 344.5 L973.4 346.8 L977.5 349.1 L981.6 351.4 L985.7 353.7 L989.8 356.1 L993.9 358.5 L998.0 360.9 L1002.1 363.4 L1006.2 365.9 L1010.4 368.4 L1014.5 370.9 L1018.6 373.5 L1022.7 376.1 L1026.8 378.8 L1030.9 381.5 L1035.0 384.2 L1039.1 387.0 L1043.2 389.7 L1047.3 392.6 L1051.4 395.4 L1055.5 398.3 L1059.6 401.2 L1063.7 404.2 L1067.8 407.2 L1071.9 410.2 L1076.0 413.3 L1080.1 416.4 L1084.2 419.6 L1088.3 422.7 L1092.4 426.0 L1096.5 429.2 L1100.6 432.5 L1104.7 435.8 L1108.8 439.2 L1112.9 442.6 L1117.0 446.0 L1121.1 449.5 L1125.2 453.0 L1129.3 456.6 L1133.4 460.2 L1137.5 463.8 L1141.6 467.5 L1145.7 471.2 L1149.8 474.9 L1153.9 478.7 L1158.0 482.6 L1162.1 486.4 L1166.2 490.3 L1170.3 494.3 L1174.4 498.3 L1178.5 502.3 L1182.6 506.4 L1186.7 510.5 L1190.8 514.6 L1194.9 518.8 L1199.0 523.0 L1203.1 527.3 L1207.2 531.6 L1211.3 536.0 L1215.5 540.4 L1219.6 544.8 L1223.7 549.3 L1227.8 553.8 L1231.9 558.3 L1236.0 562.9 L1240.1 567.5 L1244.2 572.2 L1248.3 576.9 L1252.4 581.6 L1256.5 586.4 L1260.6 591.2 L1264.7 596.1 L1268.8 601.0 L1272.9 605.9 L1277.0 610.9 L1281.1 615.9 L1285.2 621.0 L1289.3 626.1 L1293.4 631.2 L1297.5 636.4 L1301.6 641.6 L1305.7 646.8 L1309.8 652.1 L1313.9 657.4 L1318.0 662.7 L1322.1 668.1 L1326.2 673.5 L1330.3 679.0 L1334.4 684.5 L1338.5 690.0 L1342.6 695.5 L1346.7 701.1 L1350.8 706.7 L1354.9 712.3 L1359.0 718.0 L1363.1 723.7 L1367.2 729.5 L1371.3 735.2 L1375.4 741.0 L1379.5 746.8 L1383.6 752.7 L1387.7 758.6 L1391.8 764.5 L1395.9 770.4 L1400.0 776.3 L1404.1 782.3 L1408.2 788.3 L1412.3 794.3 L1416.4 800.4 L1420.6 806.5 L1424.7 812.6 L1428.8 818.7 L1432.9 824.8 L1437.0 830.9 L1441.1 837.1 L1445.2 843.3 L1449.3 849.5 L1453.4 855.7 L1457.5 862.0 L1461.6 868.2 L1465.7 874.5 L1469.8 880.8 L1473.9 887.0 L1478.0 893.3 L1482.1 899.7 L1486.2 906.0 L1490.3 912.3 L1494.4 918.6 L1498.5 925.0 L1502.6 931.3 L1506.7 937.7 L1510.8 944.1 L1514.9 950.4 L1519.0 956.8 L1523.1 963.2 L1527.2 969.5 L1531.3 975.9 L1535.4 982.3 L1539.5 988.7 L1543.6 995.0 L1547.7 1001.4 L1551.8 1007.8 L1555.9 1014.1 L1560.0 1020.5 L1564.1 1026.8 L1568.2 1033.2 L1572.3 1039.5 L1576.4 1045.8 L1580.5 1052.2 L1584.6 1058.5 L1588.7 1064.7 L1592.8 1071.0 L1596.9 1077.3 L1601.0 1083.6 L1605.1 1089.8 L1609.2 1096.0 L1613.3 1102.2 L1617.4 1108.4 L1621.5 1114.6 L1625.7 1120.8 L1629.8 1126.9 L1633.9 1133.0 L1638.0 1139.1 L1642.1 1145.2 L1646.2 1151.3 L1650.3 1157.3 L1654.4 1163.3 L1658.5 1169.3 L1662.6 1175.3 L1666.7 1181.2 L1670.8 1187.1 L1674.9 1193.0 L1679.0 1198.9 L1683.1 1204.7 L1687.2 1210.5 L1691.3 1216.3 L1695.4 1222.0 L1699.5 1227.7 L1703.6 1233.4 L1707.7 1239.1 L1711.8 1244.7 L1715.9 1250.3 L1720.0 1255.9 L1724.1 1261.4 L1728.2 1266.9 L1732.3 1272.3 L1736.4 1277.8 L1740.5 1283.2 L1744.6 1288.5 L1748.7 1293.8 L1752.8 1299.1 L1756.9 1304.4 L1761.0 1309.6 L1765.1 1314.8 L1769.2 1319.9 L1773.3 1325.0 L1777.4 1330.1 L1781.5 1335.1 L1785.6 1340.1 L1789.7 1345.1 L1793.8 1350.0 L1797.9 1354.9 L1802.0 1359.7 L1806.1 1364.5 L1810.2 1369.3 L1814.3 1374.0 L1818.4 1378.7 L1822.5 1383.3 L1826.6 1387.9 L1830.8 1392.5 L1834.9 1397.0 L1839.0 1401.5 L1843.1 1405.9 L1847.2 1410.3 L1851.3 1414.7 L1855.4 1419.0 L1859.5 1423.3 L1863.6 1427.6 L1867.7 1431.8 L1871.8 1435.9 L1875.9 1440.1 L1880.0 1444.1 L1884.1 1448.2 L1888.2 1452.2 L1892.3 1456.2 L1896.4 1460.1 L1900.5 1464.0 L1904.6 1467.8 L1908.7 1471.6 L1912.8 1475.4 L1916.9 1479.1 L1921.0 1482.8 L1925.1 1486.5 L1929.2 1490.1 L1933.3 1493.6" fill="none" stroke="#000" stroke-width="3.3" stroke-linejoin="round"/>
<g stroke="#000" fill="none">
<path d="M912.5 194.8V284.5" stroke-width="3.1"/>
<path d="M899.0 194.8H926.0M899.0 284.5H926.0" stroke-width="3.0"/>
<ellipse cx="912.5" cy="240.8" rx="10.9" ry="11.9" stroke-width="3.1"/>
<path d="M1058.7 289.5V384.7" stroke-width="3.1"/>
<path d="M1045.2 289.5H1072.2M1045.2 384.7H1072.2" stroke-width="3.0"/>
<ellipse cx="1058.7" cy="335.8" rx="10.9" ry="11.9" stroke-width="3.1"/>
<path d="M1205.3 540.7V644.7" stroke-width="3.1"/>
<path d="M1191.8 540.7H1218.8M1191.8 644.7H1218.8" stroke-width="3.0"/>
<ellipse cx="1205.3" cy="594" rx="10.9" ry="11.9" stroke-width="3.1"/>
<path d="M1351.1 756.5V920.8" stroke-width="3.1"/>
<path d="M1337.6 756.5H1364.6M1337.6 920.8H1364.6" stroke-width="3.0"/>
<ellipse cx="1351.1" cy="839.9" rx="10.9" ry="11.9" stroke-width="3.1"/>
<path d="M1497.1 795.6V917.2" stroke-width="3.1"/>
<path d="M1483.6 795.6H1510.6M1483.6 917.2H1510.6" stroke-width="3.0"/>
<ellipse cx="1497.1" cy="858.2" rx="10.9" ry="11.9" stroke-width="3.1"/>
<path d="M1643.3 1033.75V1155.6" stroke-width="3.1"/>
<path d="M1629.8 1033.75H1656.8M1629.8 1155.6H1656.8" stroke-width="3.0"/>
<ellipse cx="1643.3" cy="1094.8" rx="10.9" ry="11.9" stroke-width="3.1"/>
<path d="M1789.7 1177V1280.6" stroke-width="3.1"/>
<path d="M1776.2 1177H1803.2M1776.2 1280.6H1803.2" stroke-width="3.0"/>
<ellipse cx="1789.7" cy="1226.6" rx="10.9" ry="11.9" stroke-width="3.1"/>
<path d="M1935.2 1566.3V1738.9" stroke-width="3.1"/>
<path d="M1921.7 1566.3H1948.7M1921.7 1738.9H1948.7" stroke-width="3.0"/>
<ellipse cx="1935.2" cy="1649.9" rx="10.9" ry="11.9" stroke-width="3.1"/>
<path d="M580.4 250.7V308" stroke-width="3.1"/>
<path d="M566.9 250.7H593.9M566.9 308H593.9" stroke-width="3.0"/>
<path d="M580.4 265.6L596.1 292.1H564.7Z" stroke-width="3.1" stroke-linejoin="miter"/>
<path d="M727 268.8V318.7" stroke-width="3.1"/>
<path d="M713.5 268.8H740.5M713.5 318.7H740.5" stroke-width="3.0"/>
<path d="M727 278.0L742.7 312.5H711.3Z" stroke-width="3.1" stroke-linejoin="miter"/>
<path d="M871.1 270.1V322.6" stroke-width="3.1"/>
<path d="M857.6 270.1H884.6M857.6 322.6H884.6" stroke-width="3.0"/>
<path d="M871.1 278.5L886.8 311.5H855.4Z" stroke-width="3.1" stroke-linejoin="miter"/>
<path d="M1018.75 1070.2V1144.4" stroke-width="3.1"/>
<path d="M1005.2 1070.2H1032.2M1005.2 1144.4H1032.2" stroke-width="3.0"/>
<path d="M1018.75 1091.4L1034.5 1119.4H1003.0Z" stroke-width="3.1" stroke-linejoin="miter"/>
<path d="M1165 1660.2V1732" stroke-width="3.1"/>
<path d="M1151.5 1660.2H1178.5M1151.5 1732H1178.5" stroke-width="3.0"/>
<path d="M1165 1681.4L1180.7 1711.4H1149.3Z" stroke-width="3.1" stroke-linejoin="miter"/>
<path d="M1309.8 1696.3V1762.2" stroke-width="3.1"/>
<path d="M1296.3 1696.3H1323.3M1296.3 1762.2H1323.3" stroke-width="3.0"/>
<path d="M1309.8 1715.7L1325.5 1745.7H1294.1Z" stroke-width="3.1" stroke-linejoin="miter"/>
<path d="M1456.1 1708V1765.2" stroke-width="3.1"/>
<path d="M1442.6 1708H1469.6M1442.6 1765.2H1469.6" stroke-width="3.0"/>
<path d="M1456.1 1721.6L1471.8 1752.6H1440.4Z" stroke-width="3.1" stroke-linejoin="miter"/>
<path d="M1601.7 1709.3V1775.1" stroke-width="3.1"/>
<path d="M1588.2 1709.3H1615.2M1588.2 1775.1H1615.2" stroke-width="3.0"/>
<path d="M1601.7 1728.4L1617.4 1754.9H1586.0Z" stroke-width="3.1" stroke-linejoin="miter"/>
<path d="M295 213.8V250.0" stroke-width="3.1"/>
<path d="M281.5 213.8H308.5M281.5 250.0H308.5" stroke-width="3.0"/>
<path d="M293.5 219.2V245.2" stroke-width="3.1"/>
<path d="M280.0 219.2H307.0M280.0 245.2H307.0" stroke-width="3.0"/>
<ellipse cx="294.5" cy="231.5" rx="10.9" ry="11.9" stroke-width="3.1"/>
<path d="M294.5 214.9L310.2 243.5H278.8Z" stroke-width="3.1" stroke-linejoin="miter"/>
<path d="M1672.5 167.2H1771" stroke-width="3.8"/>
<ellipse cx="1724.3" cy="167.3" rx="10.9" ry="11.9" stroke-width="3.1"/>
<path d="M1672.5 241.4H1771" stroke-width="3.4" stroke-dasharray="13 8.6" />
<path d="M1723.6 221.7L1739.3 250.3H1707.9Z" stroke-width="3.1" stroke-linejoin="miter"/>
</g>
<g>
<text transform="matrix(0.9383 0 0 1 1794.07 181.00)" font-size="42" font-weight="400" stroke="#000" stroke-width="0.7" stroke-linejoin="round">R</text>
<text transform="matrix(0.9140 0 0 1 1795.06 254.70)" font-size="42" font-weight="400" stroke="#000" stroke-width="0.7" stroke-linejoin="round">S</text>
<text transform="matrix(0.8599 0 0 1 132.11 246.90)" font-size="42.6" font-weight="400" stroke="#000" stroke-width="0.7" stroke-linejoin="round">100</text>
<text transform="matrix(0.8731 0 0 1 150.38 550.60)" font-size="42.6" font-weight="400" stroke="#000" stroke-width="0.7" stroke-linejoin="round">80</text>
<text transform="matrix(0.8793 0 0 1 150.10 853.40)" font-size="42.6" font-weight="400" stroke="#000" stroke-width="0.7" stroke-linejoin="round">60</text>
<text transform="matrix(0.8560 0 0 1 151.16 1157.80)" font-size="42.6" font-weight="400" stroke="#000" stroke-width="0.7" stroke-linejoin="round">40</text>
<text transform="matrix(0.8789 0 0 1 149.92 1465.90)" font-size="42.6" font-weight="400" stroke="#000" stroke-width="0.7" stroke-linejoin="round">20</text>
<text transform="matrix(0.8937 0 0 1 162.31 1769.20)" font-size="42.6" font-weight="400" stroke="#000" stroke-width="0.7" stroke-linejoin="round">0</text>
<text transform="matrix(0.9723 0 0 1 282.78 1895.20)" font-size="42.6" font-weight="400" stroke="#000" stroke-width="0.7" stroke-linejoin="round">0</text>
<text transform="matrix(0.7241 0 0 1 767.95 1895.20)" font-size="42.6" font-weight="400" stroke="#000" stroke-width="0.7" stroke-linejoin="round">1</text>
<text transform="matrix(0.8217 0 0 1 1242.73 1895.20)" font-size="42.6" font-weight="400" stroke="#000" stroke-width="0.7" stroke-linejoin="round">10</text>
<text transform="matrix(0.8645 0 0 1 1718.39 1895.20)" font-size="42.6" font-weight="400" stroke="#000" stroke-width="0.7" stroke-linejoin="round">100</text>
<text transform="translate(66.00 1386.60) rotate(-90) scale(1.0013 1) translate(-0.59 0)" font-size="52.5" font-weight="700">The Fresh Weight (% of control)</text>
<text transform="matrix(0.9986 0 0 1 615.29 1984.00)" font-size="52.5" font-weight="700">Florpyrauxifen-benzyl</text>
<text transform="matrix(0.9892 0 0 1 1191.71 1984.00)" font-size="52.5" font-weight="700">(g a.i. ha</text>
<text transform="matrix(0.9208 0 0 1 1407.70 1969.00)" font-size="34" font-weight="700">−</text>
<text transform="matrix(0.7395 0 0 1 1436.02 1971.00)" font-size="34" font-weight="700">1</text>
<text transform="matrix(0.8774 0 0 1 1456.96 1984.00)" font-size="52.5" font-weight="700">)</text>
<text transform="matrix(0.9488 0 0 1 310.90 1152.00)" font-size="55" font-weight="700">S, GR</text>
<text transform="matrix(0.9638 0 0 1 454.55 1164.50)" font-size="35.5" font-weight="700">50</text>
<text transform="matrix(0.9765 0 0 1 491.67 1152.00)" font-size="55" font-weight="700">=2.97,</text>
<text transform="matrix(0.9527 0 0 1 309.80 1278.30)" font-size="55" font-weight="700">Y=97.74/[1+(x/2.97)</text>
<text transform="matrix(0.9898 0 0 1 781.42 1262.60)" font-size="35.5" font-weight="700">5.22</text>
<text transform="matrix(0.9481 0 0 1 848.76 1278.30)" font-size="55" font-weight="700">]</text>
<text transform="matrix(0.9583 0 0 1 310.27 1404.60)" font-size="55" font-weight="700">R, GR</text>
<text transform="matrix(0.9692 0 0 1 457.04 1416.80)" font-size="35.5" font-weight="700">50</text>
<text transform="matrix(0.9655 0 0 1 494.80 1404.60)" font-size="55" font-weight="700">=35.30,</text>
<text transform="matrix(0.9542 0 0 1 309.80 1530.60)" font-size="55" font-weight="700">Y=102.50/[1+(x/35.30)</text>
<text transform="matrix(0.9452 0 0 1 840.57 1515.00)" font-size="35.5" font-weight="700">0.84</text>
<text transform="matrix(1.0511 0 0 1 906.29 1530.60)" font-size="55" font-weight="700">]</text>
<text transform="matrix(0.9501 0 0 1 309.80 1656.50)" font-size="55" font-weight="700">RI=11.89</text>
</g>
</g></svg></body></html>
